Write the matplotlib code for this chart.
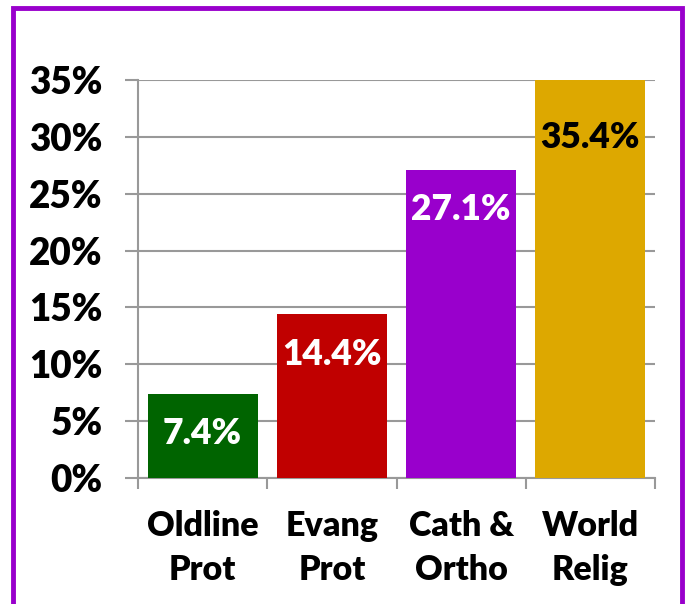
import matplotlib
matplotlib.use("Agg")
import matplotlib.pyplot as plt
from matplotlib.patches import Rectangle
from matplotlib.ticker import FuncFormatter, MultipleLocator

categories = ["Oldline\nProt", "Evang\nProt", "Cath &\nOrtho", "World\nRelig"]
values = [7.4, 14.4, 27.1, 35.4]
value_labels = ["7.4%", "14.4%", "27.1%", "35.4%"]
bar_colors = ["#006400", "#C00000", "#9900CC", "#DDA800"]
label_colors = ["white", "white", "white", "black"]
y_max = 35
y_step = 5

plt.rcParams['font.family'] = ['Lato', 'DejaVu Sans']
W = 'heavy'
G = '#999999'

fig = plt.figure(figsize=(6.86, 6.04), dpi=100)
ax = fig.add_axes([138/686, 1-478/604, (655-138)/686, (478-80)/604])

x = list(range(len(categories)))
ax.bar(x, values, width=0.85, color=bar_colors, zorder=3)
ax.set_xlim(-0.5, len(categories) - 0.5)
ax.set_ylim(0, y_max)

ax.yaxis.set_major_locator(MultipleLocator(y_step))
ax.yaxis.set_major_formatter(FuncFormatter(lambda v, p: f"{v:.0f}%"))
ax.grid(axis='y', color=G, linewidth=1.5, zorder=0)
ax.tick_params(axis='y', length=9.4, width=1.5, color=G, labelsize=26.5, pad=16)
for t in ax.get_yticklabels():
    t.set_fontweight(W)

ax.set_xticks([i - 0.5 for i in range(len(categories) + 1)], minor=False)
ax.set_xticklabels([])
ax.set_xticks(x, minor=True)
ax.set_xticklabels(categories, minor=True, fontsize=24.5, fontweight=W, linespacing=1.45)
ax.tick_params(axis='x', which='major', length=8, width=1.5, color=G, direction='out')
ax.tick_params(axis='x', which='minor', length=0, pad=23)

for s in ['top', 'right']:
    ax.spines[s].set_visible(False)
ax.spines['left'].set_color(G)
ax.spines['left'].set_linewidth(1.5)
ax.spines['bottom'].set_color(G)
ax.spines['bottom'].set_linewidth(1.5)

for xi, v, lab, c in zip(x, values, value_labels, label_colors):
    top = min(v, y_max)
    off = -57 if v > y_max else -40
    ax.annotate(lab, xy=(xi, top), xytext=(0, off * 72 / 100), textcoords='offset points',
                ha='center', va='center', fontsize=25.5, fontweight=W, color=c, zorder=4)

fig.patches.append(Rectangle((13/686, -0.05), (682-13)/686, 1.05 - 8/604,
                             transform=fig.transFigure, fill=False,
                             edgecolor='#9900CC', linewidth=3.5))

fig.savefig("out.png", dpi=100)
